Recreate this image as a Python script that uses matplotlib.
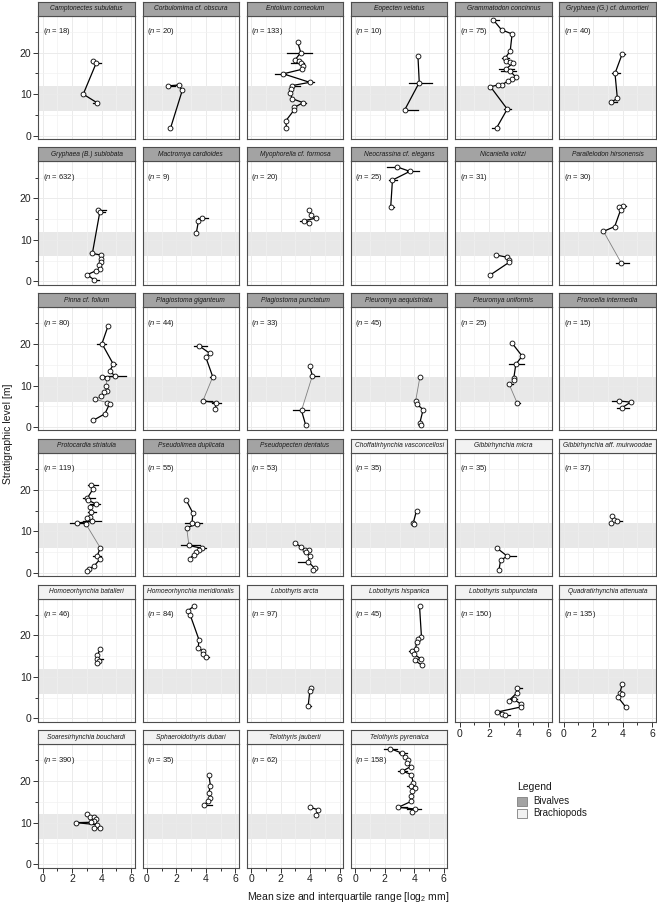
import matplotlib
matplotlib.use("Agg")
import matplotlib.pyplot as plt
from matplotlib.patches import Rectangle
from matplotlib.ticker import MultipleLocator

plt.rcParams['font.family'] = ['Liberation Sans', 'DejaVu Sans']
plt.rcParams['mathtext.fontset'] = 'custom'
plt.rcParams['mathtext.rm'] = 'Liberation Sans'
plt.rcParams['mathtext.it'] = 'Liberation Sans:italic'

# points: (level [m], mean [log2 mm]) or (level, mean, q1, q3) where the IQR bar is visible
camptonectes = [(17.9, 3.40, 3.25, 3.45), (17.4, 3.62, 3.40, 3.95), (10.0, 2.75), (7.9, 3.70, 3.40, 3.75)]
corbulomima = [(12.0, 1.40, 1.35, 1.90), (12.2, 2.15, 2.00, 2.30), (10.9, 2.40), (1.8, 1.60, 1.50, 1.70)]
entolium = [(22.65, 3.15), (20.0, 3.37, 2.45, 4.15), (18.2, 2.97, 2.85, 3.30), (18.0, 3.24),
            (17.4, 3.37, 2.70, 3.60), (16.9, 3.53), (16.0, 3.46), (14.9, 2.18, 1.60, 2.40),
            (12.85, 3.98, 3.90, 4.25), (12.05, 2.76, 2.65, 3.30), (11.2, 2.70), (10.2, 2.65),
            (8.9, 2.80), (7.95, 3.53, 3.40, 3.75), (6.8, 2.92), (6.2, 2.92), (3.6, 2.36), (1.9, 2.40)]
eopecten = [(19.2, 4.25), (12.8, 4.34, 3.64, 5.20), (6.2, 3.35, 3.35, 4.25)]
grammatodon = [(27.9, 2.29, 2.29, 2.70), (25.5, 2.85), (24.5, 3.57), (20.4, 3.44),
               (18.6, 3.08, 2.90, 3.37), (18.1, 3.17), (17.75, 3.44), (17.4, 3.60),
               (16.1, 3.17, 2.67, 3.71), (15.6, 3.42, 2.79, 3.80), (14.2, 3.80), (13.65, 3.53),
               (13.2, 3.30), (12.3, 2.90), (12.2, 2.60), (11.8, 2.10), (6.4, 3.24, 3.00, 3.48),
               (1.9, 2.52, 2.22, 2.67)]
gryphaea_dum = [(19.6, 3.96, 3.82, 4.16), (15.0, 3.48, 3.30, 3.84), (9.0, 3.64), (8.0, 3.19, 3.19, 3.64)]
gryphaea_sub = [(17.2, 3.75, 3.64, 4.29), (16.6, 3.87, 3.75, 4.20), (6.75, 3.37, 3.20, 3.40), (6.3, 3.98),
                (5.4, 3.93), (4.75, 3.93), (4.0, 3.80), (3.0, 3.87), (2.6, 3.64), (1.6, 3.01),
                (0.4, 3.48, 3.48, 3.82)]
mactromya = [(15.2, 3.73, 3.46, 4.13), (14.6, 3.50), (11.6, 3.35)]
myophorella = [(17.2, 3.93), (16.0, 4.09), (15.2, 4.38, 4.30, 4.45), (14.6, 3.57, 3.30, 3.84), (14.1, 3.93)]
neocrassina = [(27.6, 2.81, 2.13, 2.85), (26.5, 3.70, 3.48, 4.31), (24.4, 2.52, 2.29, 2.85), (17.8, 2.40, 2.40, 2.60)]
nicaniella = [(6.35, 2.49), (5.8, 3.24), (5.15, 3.33), (4.6, 3.37), (1.55, 2.09)]
parallelodon = [(18.2, 4.02, 3.95, 4.20), (17.9, 3.78), (17.3, 3.87), (13.2, 3.46), (12.05, 2.70),
                (4.4, 3.91, 3.53, 4.43)]
pinna = [(24.3, 4.43), (20.1, 4.02, 3.71, 4.31), (15.1, 4.80, 4.70, 4.95), (13.5, 4.54),
         (12.2, 4.94, 4.43, 5.67), (12.1, 4.00, 3.87, 4.43), (11.9, 4.36), (10.0, 4.31), (8.8, 4.36),
         (8.4, 4.16), (7.6, 3.98), (6.7, 3.57), (5.9, 4.36), (5.6, 4.54, 4.40, 4.60), (3.2, 4.22),
         (1.6, 3.42, 3.30, 3.50)]
plag_gig = [(19.6, 3.53, 3.20, 4.10), (17.8, 4.25), (16.8, 4.00), (12.1, 4.47, 4.30, 4.55),
            (6.3, 3.80, 3.70, 4.45), (5.9, 4.70, 4.45, 5.00), (4.4, 4.65)]
plag_pun = [(14.6, 3.98, 3.90, 4.05), (12.4, 4.16, 3.98, 4.60), (4.0, 3.42, 2.87, 3.93), (0.4, 3.71)]
pleuromya_aeq = [(12.0, 4.38), (6.2, 4.09), (5.6, 4.16), (4.2, 4.60), (1.0, 4.38), (0.4, 4.43)]
pleuromya_uni = [(20.2, 3.57), (17.1, 4.25), (15.1, 3.82, 3.37, 4.40), (11.9, 3.69), (11.4, 3.73),
                 (10.3, 3.37, 3.30, 3.60), (5.8, 3.91, 3.85, 4.10)]
pronoella = [(6.3, 3.75, 3.30, 3.75), (6.0, 4.54), (4.6, 3.93, 3.64, 4.43)]
protocardia = [(21.2, 3.30, 3.08, 3.75), (20.2, 3.42), (17.9, 3.01, 2.75, 3.53), (17.5, 3.08),
               (16.5, 3.64, 3.19, 3.87), (15.8, 3.19), (14.6, 3.30, 3.08, 3.60), (13.4, 3.19),
               (13.2, 3.01), (12.4, 3.35, 2.75, 3.98), (12.0, 2.34, 1.84, 2.63), (11.8, 2.92),
               (6.0, 3.91), (4.0, 3.69, 3.42, 3.98), (3.2, 3.87), (1.6, 3.48), (1.0, 3.15), (0.4, 3.01)]
pseudolimea = [(17.6, 2.65), (14.4, 3.12), (12.0, 3.06, 2.56, 3.71), (11.8, 3.39), (10.8, 2.70),
               (6.6, 2.85, 2.34, 3.57), (5.9, 3.71, 3.53, 4.02), (5.5, 3.53), (4.9, 3.35), (4.3, 3.17),
               (3.4, 2.90)]
pseudopecten = [(7.2, 3.01), (6.2, 3.37), (5.6, 3.64), (5.4, 3.91), (5.0, 3.71), (4.0, 3.98),
                (2.7, 3.87, 3.19, 3.87), (1.1, 4.31, 4.31, 4.50), (0.6, 4.20)]
choffatirhynchia = [(15.0, 4.16), (12.0, 3.93), (11.7, 4.00)]
gibbi_micra = [(5.9, 2.56), (4.0, 3.24, 3.24, 3.80), (3.0, 2.79), (0.6, 2.67)]
gibbi_muir = [(13.6, 3.30), (12.6, 3.42), (12.0, 3.19), (12.4, 3.64, 3.64, 3.98)]
homoeo_bat = [(16.8, 3.91), (15.2, 3.71), (14.4, 3.71, 3.71, 4.10), (13.8, 3.80), (13.3, 3.69)]
homoeo_mer = [(27.0, 3.17), (26.0, 2.79), (24.9, 2.94), (19.0, 3.53), (16.9, 3.48), (16.3, 3.80),
              (15.5, 3.84), (14.9, 4.02, 3.90, 4.20)]
lobo_arcta = [(7.3, 4.09), (6.5, 3.98), (2.95, 3.87, 3.87, 4.09)]
lobo_hisp = [(27.0, 4.36), (19.6, 4.49), (19.2, 4.25), (18.5, 4.16), (16.7, 4.09), (16.3, 3.87, 3.64, 3.98),
             (15.5, 3.98), (14.4, 4.43), (14.0, 4.02), (12.8, 4.54)]
lobo_subp = [(7.3, 3.91, 3.91, 4.25), (6.1, 3.87), (4.3, 3.35), (4.6, 3.69, 3.40, 3.90), (3.4, 4.20),
             (2.8, 4.20), (1.55, 2.56, 2.40, 2.90), (1.15, 2.90), (0.75, 3.12, 3.12, 3.40)]
quadrati = [(8.4, 3.98), (6.2, 3.82), (5.9, 3.98), (5.1, 3.69), (2.8, 4.20)]
soaresi = [(12.15, 3.01), (11.3, 3.19), (11.25, 3.46), (10.85, 3.64), (10.5, 3.48), (10.1, 3.30),
           (10.0, 2.29), (9.5, 3.69), (8.8, 3.87), (8.65, 3.48)]
sphaero = [(21.5, 4.20), (18.95, 4.31), (17.2, 4.20), (15.95, 4.29), (15.1, 4.13), (14.2, 3.89, 3.89, 4.40)]
telo_jau = [(13.7, 4.02), (13.1, 4.54), (11.9, 4.43)]
telo_pyr = [(27.85, 2.36, 1.96, 2.85), (26.7, 3.20, 2.97, 3.53), (25.7, 3.37), (25.0, 3.60), (24.45, 3.48),
            (23.5, 3.75), (22.4, 3.20, 2.90, 3.53), (21.6, 3.80), (19.6, 3.93), (18.95, 3.75, 3.53, 4.09),
            (18.4, 4.02), (17.6, 3.87), (16.35, 3.80), (15.15, 3.80), (13.7, 2.92, 2.81, 3.53),
            (13.3, 4.02, 3.53, 4.49), (12.5, 3.87)]

species = ["Camptonectes subulatus", "Corbulomima cf. obscura", "Entolium corneolum", "Eopecten velatus",
           "Grammatodon concinnus", "Gryphaea (G.) cf. dumortieri", "Gryphaea (B.) sublobata",
           "Mactromya cardioides", "Myophorella cf. formosa", "Neocrassina cf. elegans",
           "Nicaniella voltzi", "Parallelodon hirsonensis", "Pinna cf. folium", "Plagiostoma giganteum",
           "Plagiostoma punctatum", "Pleuromya aequistriata", "Pleuromya uniformis", "Pronoella intermedia",
           "Protocardia striatula", "Pseudolimea duplicata", "Pseudopecten dentatus",
           "Choffatirhynchia vasconcellosi", "Gibbirhynchia micra", "Gibbirhynchia aff. muirwoodae",
           "Homoeorhynchia batalleri", "Homoeorhynchia meridionalis", "Lobothyris arcta",
           "Lobothyris hispanica", "Lobothyris subpunctata", "Quadratirhynchia attenuata",
           "Soaresirhynchia bouchardi", "Sphaeroidothyris dubari", "Telothyris jauberti", "Telothyris pyrenaica"]
n_obs = [18, 20, 133, 10, 75, 40, 632, 9, 20, 25, 31, 30, 80, 44, 33, 45, 25, 15, 119, 55, 53,
         35, 35, 37, 46, 84, 97, 45, 150, 135, 390, 35, 62, 158]
n_bivalves = 21
points = [camptonectes, corbulomima, entolium, eopecten, grammatodon, gryphaea_dum, gryphaea_sub,
          mactromya, myophorella, neocrassina, nicaniella, parallelodon, pinna, plag_gig, plag_pun,
          pleuromya_aeq, pleuromya_uni, pronoella, protocardia, pseudolimea, pseudopecten,
          choffatirhynchia, gibbi_micra, gibbi_muir, homoeo_bat, homoeo_mer, lobo_arcta, lobo_hisp,
          lobo_subp, quadrati, soaresi, sphaero, telo_jau, telo_pyr]
# segments (index i joins point i and i+1) drawn in grey
grey_segments = {"Parallelodon hirsonensis": [4], "Pinna cf. folium": [6, 7, 8, 9, 10, 11],
                 "Plagiostoma giganteum": [3], "Plagiostoma punctatum": [1],
                 "Pleuromya aequistriata": [0], "Pleuromya uniformis": [3, 4, 5],
                 "Protocardia striatula": [11], "Pseudolimea duplicata": [4]}
gap_band = (6, 12)

W, H = 657, 906
fig = plt.figure(figsize=(W / 100, H / 100), dpi=100)

def fig_box(x0, y0, w, h):
    return [x0 / W, 1 - (y0 + h) / H, w / W, h / H]

border = '#4D4D4D'
for k, name in enumerate(species):
    r, c = divmod(k, 6)
    left = 38.3 + c * 104.2
    top = 1.7 + r * 145.7
    ax = fig.add_axes(fig_box(left, top + 14, 96.5, 123.3))
    st = fig.add_axes(fig_box(left, top, 96.5, 14))
    st.set_facecolor('#A3A3A3' if k < n_bivalves else '#F2F2F2')
    st.set_xticks([]); st.set_yticks([])
    for s in st.spines.values():
        s.set_color(border); s.set_linewidth(0.8)
    st.text(0.5, 0.5, name, ha='center', va='center', fontsize=4.8, style='italic',
            color='#1A1A1A', transform=st.transAxes)

    ax.set_xlim(-0.3, 6.25)
    ax.set_ylim(-0.8, 28.9)
    ax.xaxis.set_major_locator(MultipleLocator(2))
    ax.xaxis.set_minor_locator(MultipleLocator(1))
    ax.yaxis.set_major_locator(MultipleLocator(10))
    ax.yaxis.set_minor_locator(MultipleLocator(5))
    ax.grid(True, which='major', color='#EBEBEB', lw=0.7, zorder=0)
    ax.grid(True, which='minor', color='#F2F2F2', lw=0.5, zorder=0)
    ax.set_axisbelow(True)
    ax.axhspan(gap_band[0], gap_band[1], color='#DCDCDC', alpha=0.65, lw=0, zorder=0.5)
    for s in ax.spines.values():
        s.set_color(border); s.set_linewidth(0.8)

    ax.tick_params(which='both', direction='out', color='#333333', width=0.7,
                   labelsize=7.5, labelcolor='#222222', pad=1.5)
    ax.tick_params(which='major', length=3.5)
    ax.tick_params(which='minor', length=2)
    show_x = (r == 5) or (r == 4 and c >= 4)
    show_y = (c == 0)
    ax.tick_params(axis='x', which='both', bottom=show_x, labelbottom=show_x)
    ax.tick_params(axis='y', which='both', left=show_y, labelleft=show_y)

    pts = points[k]
    ys = [p[0] for p in pts]
    xs = [p[1] for p in pts]
    greys = grey_segments.get(name, [])
    for i in range(len(pts) - 1):
        g = i in greys
        ax.plot(xs[i:i + 2], ys[i:i + 2], color='#7F7F7F' if g else 'black',
                lw=0.6 if g else 0.9, zorder=2, solid_capstyle='butt')
    for p in pts:
        if len(p) == 4:
            ax.plot([p[2], p[3]], [p[0], p[0]], color='black', lw=0.9, zorder=2)
    ax.plot(xs, ys, 'o', ls='none', mfc='white', mec='black', ms=3.5, mew=0.6, zorder=3)

    ax.text(0, 25, r'($\mathit{n}$ = %d)' % n_obs[k], fontsize=5.5, color='#1A1A1A',
            ha='left', va='center')

fig.text(8 / W, 1 - 434 / H, 'Stratigraphic level [m]', rotation=90, ha='center', va='center',
         fontsize=7.5, color='#1A1A1A')
fig.text(348 / W, 1 - 897 / H, r'Mean size and interquartile range [log$_2$ mm]', ha='center',
         va='center', fontsize=7.5, color='#1A1A1A')

# legend
fig.text(517 / W, 1 - 787 / H, 'Legend', ha='left', va='center', fontsize=7.5, color='#1A1A1A')
for j, (lab, col) in enumerate([('Bivalves', '#A3A3A3'), ('Brachiopods', '#F2F2F2')]):
    y = 797 + j * 12
    fig.add_artist(Rectangle((517 / W, 1 - (y + 9) / H), 10 / W, 9 / H, transform=fig.transFigure,
                             facecolor=col, edgecolor='#7F7F7F', lw=0.6))
    fig.text(533 / W, 1 - (y + 4.5) / H, lab, ha='left', va='center', fontsize=7, color='#1A1A1A')

fig.savefig('out.png', dpi=100)
